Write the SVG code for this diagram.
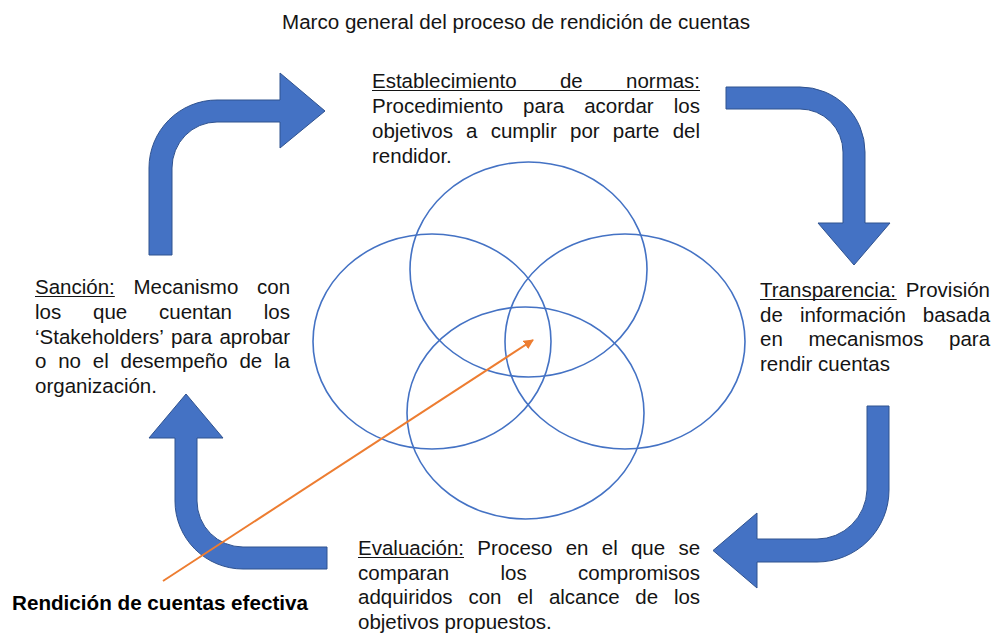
<svg xmlns="http://www.w3.org/2000/svg" width="995" height="633" viewBox="0 0 995 633">
<style>
.t{font-family:"Liberation Sans",Arial,sans-serif;font-size:20.5px;fill:#141414}
.title{font-family:"Liberation Sans",Arial,sans-serif;font-size:20px;fill:#141414}
.b{font-family:"Liberation Sans",Arial,sans-serif;font-size:20px;font-weight:bold;fill:#000}
.ul{stroke:#141414;stroke-width:1.2}
.arr{fill:#4472C4;stroke:#2F528F;stroke-width:1}
.ell{fill:none;stroke:#4472C4;stroke-width:1.6}
</style>
<defs>
<marker id="oa" viewBox="0 0 10 10" refX="9" refY="5" markerWidth="5" markerHeight="5" orient="auto" markerUnits="strokeWidth">
<path d="M0,0 L10,5 L0,10 Z" fill="#ED7D31"/>
</marker>
</defs>
<rect width="995" height="633" fill="#ffffff"/>
<g id="title">
<text class="title" x="282" y="29" textLength="468" lengthAdjust="spacingAndGlyphs">Marco general del proceso de rendición de cuentas</text>
</g>
<g id="venn">
<ellipse class="ell" cx="528.5" cy="269.5" rx="118.5" ry="107.5"/>
<ellipse class="ell" cx="432" cy="341.5" rx="119" ry="107.5"/>
<ellipse class="ell" cx="625" cy="341.5" rx="120" ry="107.5"/>
<ellipse class="ell" cx="525.5" cy="413" rx="118.5" ry="106"/>
</g>
<g id="connectors">
<path id="arrow-tl" class="arr" d="M149,255 L149,168 A68,68 0 0 1 217,100 L280,100 L280,73 L325,111 L280,148 L280,122 L217,122 A45,46 0 0 0 172,168 L172,255 Z"/>
<path id="arrow-tr" class="arr" d="M726,87 L800,87 A65,65 0 0 1 865,152 L865,223 L890,223 L854,265 L818,223 L843,223 L843,152 A43,43 0 0 0 800,109 L726,109 Z"/>
<path id="arrow-br" class="arr" d="M867,406 L889,406 L889,490 A72,72 0 0 1 817,562 L757,562 L757,588 L713,550.5 L757,513 L757,539 L817,539 A50,51 0 0 0 867,490 Z"/>
<path id="arrow-bl" class="arr" d="M327,547 L327,569 L243,569 A68,68 0 0 1 175,501 L175,438 L149,438 L186,394 L223,438 L197,438 L197,501 A46,46 0 0 0 243,547 Z"/>
<line id="orange" x1="163" y1="581" x2="533" y2="340" stroke="#ED7D31" stroke-width="2" marker-end="url(#oa)"/>
</g>
<g id="node-establecimiento">
<text class="t" y="88"><tspan x="372">Establecimiento</tspan><tspan x="559.9">de</tspan><tspan x="626">normas:</tspan></text>
<line class="ul" x1="372" y1="90.5" x2="700" y2="90.5"/>
<text class="t" y="113"><tspan x="372">Procedimiento</tspan><tspan x="523.1">para</tspan><tspan x="584.2">acordar</tspan><tspan x="673.8">los</tspan></text>
<text class="t" y="138"><tspan x="372">objetivos</tspan><tspan x="466.1">a</tspan><tspan x="490.7">cumplir</tspan><tspan x="570">por</tspan><tspan x="612.8">parte</tspan><tspan x="672.7">del</tspan></text>
<text class="t" x="372" y="163">rendidor.</text>
</g>
<g id="node-sancion">
<text class="t" y="294"><tspan x="35">Sanción:</tspan><tspan x="133.5">Mecanismo</tspan><tspan x="257">con</tspan></text>
<line class="ul" x1="35" y1="296.5" x2="114.8" y2="296.5"/>
<text class="t" y="319"><tspan x="35">los</tspan><tspan x="93">que</tspan><tspan x="159">cuentan</tspan><tspan x="263.8">los</tspan></text>
<text class="t" y="343.5"><tspan x="35">‘Stakeholders’</tspan><tspan x="171">para</tspan><tspan x="219.4">aprobar</tspan></text>
<text class="t" y="368"><tspan x="35">o</tspan><tspan x="58.2">no</tspan><tspan x="92.8">el</tspan><tspan x="120.5">desempeño</tspan><tspan x="239.4">de</tspan><tspan x="274">la</tspan></text>
<text class="t" x="35" y="393">organización.</text>
</g>
<g id="node-transparencia">
<text class="t" y="297"><tspan x="760">Transparencia:</tspan><tspan x="905.7">Provisión</tspan></text>
<line class="ul" x1="760" y1="299.5" x2="896.7" y2="299.5"/>
<text class="t" y="321.5"><tspan x="760">de</tspan><tspan x="799.9">información</tspan><tspan x="922.8">basada</tspan></text>
<text class="t" y="346"><tspan x="760">en</tspan><tspan x="808.4">mecanismos</tspan><tspan x="949">para</tspan></text>
<text class="t" x="760" y="370.5">rendir cuentas</text>
</g>
<g id="node-evaluacion">
<text class="t" y="555"><tspan x="358">Evaluación:</tspan><tspan x="477.3">Proceso</tspan><tspan x="565.7">en</tspan><tspan x="601.8">el</tspan><tspan x="630.9">que</tspan><tspan x="678.4">se</tspan></text>
<line class="ul" x1="358" y1="557.5" x2="464" y2="557.5"/>
<text class="t" y="579.5"><tspan x="358">comparan</tspan><tspan x="500.5">los</tspan><tspan x="578.1">compromisos</tspan></text>
<text class="t" y="604"><tspan x="358">adquiridos</tspan><tspan x="468.4">con</tspan><tspan x="517.2">el</tspan><tspan x="548.9">alcance</tspan><tspan x="635.3">de</tspan><tspan x="673.9">los</tspan></text>
<text class="t" x="358" y="628.5">objetivos propuestos.</text>
</g>
<g id="node-label">
<text class="b" x="12" y="610" textLength="296" lengthAdjust="spacingAndGlyphs">Rendición de cuentas efectiva</text>
</g>
</svg>
